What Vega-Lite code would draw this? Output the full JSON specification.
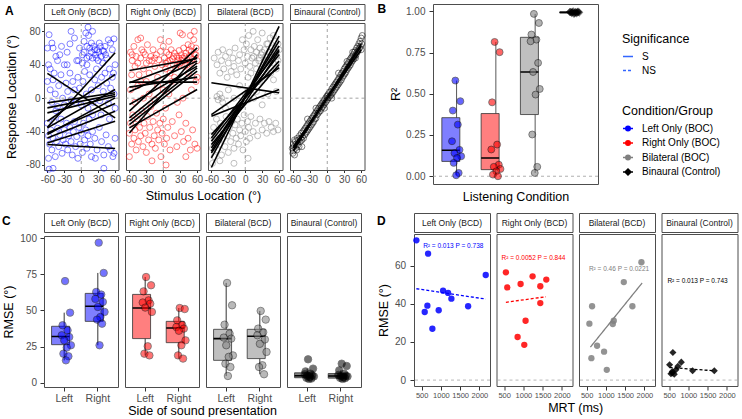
{
  "$schema": "https://vega.github.io/schema/vega-lite/v6.json",
  "background": "white",
  "padding": {"left": 2, "top": 2, "right": 0, "bottom": 0},
  "config": {
    "font": "Liberation Sans",
    "view": {"stroke": "#4d4d4d", "strokeWidth": 1},
    "axis": {"grid": false, "domain": false, "tickColor": "#333333", "tickSize": 2.5, "labelColor": "#4d4d4d", "labelFontSize": 10, "labelPadding": 1.5, "labelFlush": false, "labelOverlap": false, "titleFontSize": 12.5, "titleFontWeight": "normal", "titleColor": "#000000", "titlePadding": 5},
    "legend": {"titleFontSize": 12.5, "titleFontWeight": "normal", "titleColor": "#000000", "labelFontSize": 10, "labelColor": "#000000", "padding": 0},
    "title": {"fontSize": 12, "fontWeight": "bold", "color": "#000000"}
  },
  "datasets": {
    "cond": [{"c":"L","n":"Left Only (BCD)"},{"c":"R","n":"Right Only (BCD)"},{"c":"Bi","n":"Bilateral (BCD)"},{"c":"Bn","n":"Binaural (Control)"}],
    "a": [
      {"c":"L","x":-57,"y":76},{"c":"L","x":-52,"y":66},{"c":"L","x":-50,"y":60},{"c":"L","x":-45,"y":50},{"c":"L","x":-58,"y":40},{"c":"L","x":-55,"y":35},{"c":"L","x":-48,"y":30},{"c":"L","x":-42,"y":45},{"c":"L","x":-38,"y":52},{"c":"L","x":-35,"y":62},{"c":"L","x":-30,"y":40},{"c":"L","x":-25,"y":55},{"c":"L","x":-20,"y":65},{"c":"L","x":-12,"y":72},{"c":"L","x":-8,"y":45},{"c":"L","x":-3,"y":60},{"c":"L","x":2,"y":52},{"c":"L","x":5,"y":68},{"c":"L","x":8,"y":78},{"c":"L","x":12,"y":85},{"c":"L","x":15,"y":60},{"c":"L","x":18,"y":55},{"c":"L","x":20,"y":48},{"c":"L","x":22,"y":62},{"c":"L","x":25,"y":52},{"c":"L","x":28,"y":58},{"c":"L","x":30,"y":45},{"c":"L","x":32,"y":66},{"c":"L","x":35,"y":50},{"c":"L","x":38,"y":42},{"c":"L","x":40,"y":56},{"c":"L","x":42,"y":62},{"c":"L","x":45,"y":48},{"c":"L","x":48,"y":70},{"c":"L","x":52,"y":66},{"c":"L","x":55,"y":58},{"c":"L","x":58,"y":71},{"c":"L","x":60,"y":40},{"c":"L","x":57,"y":30},{"c":"L","x":50,"y":35},
      {"c":"L","x":-60,"y":20},{"c":"L","x":-55,"y":10},{"c":"L","x":-52,"y":-5},{"c":"L","x":-50,"y":22},{"c":"L","x":-46,"y":5},{"c":"L","x":-42,"y":-10},{"c":"L","x":-40,"y":15},{"c":"L","x":-36,"y":28},{"c":"L","x":-33,"y":0},{"c":"L","x":-30,"y":-8},{"c":"L","x":-27,"y":18},{"c":"L","x":-24,"y":8},{"c":"L","x":-20,"y":30},{"c":"L","x":-18,"y":-2},{"c":"L","x":-15,"y":20},{"c":"L","x":-12,"y":10},{"c":"L","x":-10,"y":-5},{"c":"L","x":-6,"y":25},{"c":"L","x":-3,"y":12},{"c":"L","x":0,"y":-8},{"c":"L","x":3,"y":20},{"c":"L","x":6,"y":32},{"c":"L","x":9,"y":5},{"c":"L","x":12,"y":-12},{"c":"L","x":15,"y":28},{"c":"L","x":18,"y":10},{"c":"L","x":21,"y":-5},{"c":"L","x":24,"y":22},{"c":"L","x":27,"y":35},{"c":"L","x":30,"y":15},{"c":"L","x":33,"y":-3},{"c":"L","x":36,"y":25},{"c":"L","x":39,"y":8},{"c":"L","x":42,"y":30},{"c":"L","x":45,"y":18},{"c":"L","x":48,"y":-6},{"c":"L","x":52,"y":12},{"c":"L","x":55,"y":25},{"c":"L","x":58,"y":5},{"c":"L","x":60,"y":-12},
      {"c":"L","x":-60,"y":-30},{"c":"L","x":-58,"y":-45},{"c":"L","x":-56,"y":-55},{"c":"L","x":-54,"y":-38},{"c":"L","x":-52,"y":-62},{"c":"L","x":-50,"y":-48},{"c":"L","x":-48,"y":-28},{"c":"L","x":-46,"y":-70},{"c":"L","x":-44,"y":-52},{"c":"L","x":-42,"y":-36},{"c":"L","x":-40,"y":-58},{"c":"L","x":-38,"y":-44},{"c":"L","x":-36,"y":-25},{"c":"L","x":-34,"y":-66},{"c":"L","x":-32,"y":-50},{"c":"L","x":-30,"y":-38},{"c":"L","x":-28,"y":-55},{"c":"L","x":-26,"y":-30},{"c":"L","x":-24,"y":-62},{"c":"L","x":-22,"y":-45},{"c":"L","x":-20,"y":-35},{"c":"L","x":-18,"y":-52},{"c":"L","x":-16,"y":-68},{"c":"L","x":-14,"y":-40},{"c":"L","x":-12,"y":-28},{"c":"L","x":-10,"y":-58},{"c":"L","x":-8,"y":-46},{"c":"L","x":-6,"y":-72},{"c":"L","x":-4,"y":-35},{"c":"L","x":-2,"y":-55},{"c":"L","x":0,"y":-42},{"c":"L","x":2,"y":-65},{"c":"L","x":4,"y":-30},{"c":"L","x":6,"y":-50},{"c":"L","x":8,"y":-38},{"c":"L","x":10,"y":-60},{"c":"L","x":12,"y":-45},{"c":"L","x":14,"y":-25},{"c":"L","x":16,"y":-55},{"c":"L","x":18,"y":-70},{"c":"L","x":20,"y":-40},{"c":"L","x":24,"y":-48},{"c":"L","x":28,"y":-62},{"c":"L","x":32,"y":-35},{"c":"L","x":36,"y":-52},{"c":"L","x":40,"y":-68},{"c":"L","x":44,"y":-44},{"c":"L","x":48,"y":-58},{"c":"L","x":52,"y":-62},{"c":"L","x":56,"y":-70},{"c":"L","x":60,"y":-48},{"c":"L","x":58,"y":-66},{"c":"L","x":-57,"y":-85},{"c":"L","x":-50,"y":-84},{"c":"L","x":40,"y":-84},{"c":"L","x":-58,"y":-72},{"c":"L","x":25,"y":-72},
      {"c":"L","x":-60,"y":60},{"c":"L","x":-45,"y":-15},{"c":"L","x":10,"y":40},{"c":"L","x":-25,"y":40},{"c":"L","x":35,"y":-20},{"c":"L","x":50,"y":-25},{"c":"L","x":-5,"y":45},{"c":"L","x":20,"y":-20},{"c":"L","x":5,"y":55},{"c":"L","x":10,"y":62},{"c":"L","x":14,"y":50},{"c":"L","x":18,"y":66},{"c":"L","x":24,"y":58},{"c":"L","x":27,"y":48},{"c":"L","x":31,"y":55},{"c":"L","x":34,"y":62},{"c":"L","x":38,"y":57},{"c":"L","x":43,"y":52},{"c":"L","x":10,"y":48},{"c":"L","x":2,"y":42},{"c":"L","x":-18,"y":80},{"c":"L","x":20,"y":80},{"c":"L","x":13,"y":75},
      {"c":"R","x":-58,"y":55},{"c":"R","x":-55,"y":45},{"c":"R","x":-52,"y":62},{"c":"R","x":-50,"y":38},{"c":"R","x":-48,"y":50},{"c":"R","x":-45,"y":70},{"c":"R","x":-43,"y":28},{"c":"R","x":-40,"y":48},{"c":"R","x":-38,"y":58},{"c":"R","x":-35,"y":35},{"c":"R","x":-32,"y":52},{"c":"R","x":-30,"y":42},{"c":"R","x":-28,"y":64},{"c":"R","x":-25,"y":30},{"c":"R","x":-22,"y":50},{"c":"R","x":-20,"y":45},{"c":"R","x":-18,"y":58},{"c":"R","x":-15,"y":38},{"c":"R","x":-12,"y":52},{"c":"R","x":-10,"y":25},{"c":"R","x":-8,"y":46},{"c":"R","x":-5,"y":56},{"c":"R","x":-2,"y":40},{"c":"R","x":0,"y":62},{"c":"R","x":2,"y":48},{"c":"R","x":4,"y":35},{"c":"R","x":6,"y":55},{"c":"R","x":8,"y":44},{"c":"R","x":10,"y":52},{"c":"R","x":12,"y":30},{"c":"R","x":14,"y":58},{"c":"R","x":16,"y":47},{"c":"R","x":18,"y":40},{"c":"R","x":20,"y":54},{"c":"R","x":22,"y":36},{"c":"R","x":24,"y":50},{"c":"R","x":26,"y":45},{"c":"R","x":28,"y":57},{"c":"R","x":30,"y":42},{"c":"R","x":32,"y":52},{"c":"R","x":34,"y":48},{"c":"R","x":36,"y":60},{"c":"R","x":38,"y":38},{"c":"R","x":40,"y":54},{"c":"R","x":42,"y":46},{"c":"R","x":44,"y":64},{"c":"R","x":46,"y":50},{"c":"R","x":48,"y":42},{"c":"R","x":50,"y":56},{"c":"R","x":52,"y":47},{"c":"R","x":54,"y":70},{"c":"R","x":56,"y":52},{"c":"R","x":58,"y":60},{"c":"R","x":60,"y":45},{"c":"R","x":30,"y":78},{"c":"R","x":34,"y":76},{"c":"R","x":48,"y":75},{"c":"R","x":55,"y":80},{"c":"R","x":-5,"y":70},{"c":"R","x":10,"y":68},{"c":"R","x":-40,"y":72},{"c":"R","x":-56,"y":28},{"c":"R","x":20,"y":25},{"c":"R","x":45,"y":30},{"c":"R","x":60,"y":25},{"c":"R","x":50,"y":62},{"c":"R","x":15,"y":20},{"c":"R","x":-30,"y":20},
      {"c":"R","x":5,"y":42},{"c":"R","x":12,"y":45},{"c":"R","x":18,"y":50},{"c":"R","x":25,"y":40},{"c":"R","x":33,"y":45},{"c":"R","x":38,"y":50},{"c":"R","x":42,"y":40},{"c":"R","x":-25,"y":45},{"c":"R","x":-35,"y":55},{"c":"R","x":-45,"y":42},{"c":"R","x":-55,"y":52},{"c":"R","x":46,"y":58},{"c":"R","x":58,"y":52},{"c":"R","x":28,"y":48},{"c":"R","x":-15,"y":48},
      {"c":"R","x":-60,"y":-42},{"c":"R","x":-58,"y":-30},{"c":"R","x":-56,"y":-55},{"c":"R","x":-54,"y":-20},{"c":"R","x":-52,"y":-48},{"c":"R","x":-50,"y":-38},{"c":"R","x":-48,"y":-62},{"c":"R","x":-46,"y":-25},{"c":"R","x":-44,"y":-52},{"c":"R","x":-42,"y":-35},{"c":"R","x":-40,"y":-45},{"c":"R","x":-38,"y":-15},{"c":"R","x":-36,"y":-58},{"c":"R","x":-34,"y":-30},{"c":"R","x":-32,"y":-42},{"c":"R","x":-30,"y":-65},{"c":"R","x":-28,"y":-22},{"c":"R","x":-26,"y":-50},{"c":"R","x":-24,"y":-35},{"c":"R","x":-22,"y":-10},{"c":"R","x":-20,"y":-55},{"c":"R","x":-18,"y":-28},{"c":"R","x":-16,"y":-45},{"c":"R","x":-14,"y":-60},{"c":"R","x":-12,"y":-18},{"c":"R","x":-10,"y":-38},{"c":"R","x":-8,"y":-50},{"c":"R","x":-6,"y":-30},{"c":"R","x":-4,"y":-70},{"c":"R","x":-2,"y":-42},{"c":"R","x":0,"y":-25},{"c":"R","x":2,"y":-55},{"c":"R","x":4,"y":-12},{"c":"R","x":6,"y":-48},{"c":"R","x":8,"y":-35},{"c":"R","x":12,"y":-62},{"c":"R","x":16,"y":-28},{"c":"R","x":20,"y":-45},{"c":"R","x":24,"y":-58},{"c":"R","x":28,"y":-20},{"c":"R","x":32,"y":-40},{"c":"R","x":36,"y":-52},{"c":"R","x":40,"y":-30},{"c":"R","x":44,"y":-48},{"c":"R","x":48,"y":-62},{"c":"R","x":52,"y":-38},{"c":"R","x":56,"y":-55},{"c":"R","x":60,"y":-60},{"c":"R","x":-50,"y":-5},{"c":"R","x":-35,"y":0},{"c":"R","x":-15,"y":-2},{"c":"R","x":10,"y":5},{"c":"R","x":35,"y":0},{"c":"R","x":-58,"y":10},{"c":"R","x":-45,"y":15},{"c":"R","x":-25,"y":5},{"c":"R","x":0,"y":10},{"c":"R","x":25,"y":-5},{"c":"R","x":-60,"y":-70},{"c":"R","x":-20,"y":-75},{"c":"R","x":40,"y":-70},{"c":"R","x":5,"y":-80},{"c":"R","x":-40,"y":20},{"c":"R","x":-10,"y":15},{"c":"R","x":50,"y":10},{"c":"R","x":58,"y":20},
      {"c":"Bi","x":-55,"y":48},{"c":"Bi","x":-50,"y":40},{"c":"Bi","x":-48,"y":55},{"c":"Bi","x":-45,"y":30},{"c":"Bi","x":-42,"y":45},{"c":"Bi","x":-40,"y":58},{"c":"Bi","x":-38,"y":35},{"c":"Bi","x":-35,"y":50},{"c":"Bi","x":-32,"y":25},{"c":"Bi","x":-30,"y":42},{"c":"Bi","x":-28,"y":55},{"c":"Bi","x":-25,"y":32},{"c":"Bi","x":-22,"y":48},{"c":"Bi","x":-20,"y":38},{"c":"Bi","x":-18,"y":60},{"c":"Bi","x":-15,"y":28},{"c":"Bi","x":-12,"y":45},{"c":"Bi","x":-10,"y":52},{"c":"Bi","x":-8,"y":35},{"c":"Bi","x":-5,"y":70},{"c":"Bi","x":-2,"y":58},{"c":"Bi","x":0,"y":42},{"c":"Bi","x":2,"y":65},{"c":"Bi","x":4,"y":50},{"c":"Bi","x":6,"y":75},{"c":"Bi","x":8,"y":38},{"c":"Bi","x":10,"y":58},{"c":"Bi","x":12,"y":48},{"c":"Bi","x":14,"y":80},{"c":"Bi","x":16,"y":62},{"c":"Bi","x":18,"y":42},{"c":"Bi","x":20,"y":55},{"c":"Bi","x":22,"y":70},{"c":"Bi","x":24,"y":45},{"c":"Bi","x":26,"y":60},{"c":"Bi","x":28,"y":52},{"c":"Bi","x":30,"y":78},{"c":"Bi","x":32,"y":40},{"c":"Bi","x":34,"y":58},{"c":"Bi","x":36,"y":50},{"c":"Bi","x":38,"y":65},{"c":"Bi","x":40,"y":45},{"c":"Bi","x":42,"y":55},{"c":"Bi","x":44,"y":72},{"c":"Bi","x":46,"y":48},{"c":"Bi","x":48,"y":60},{"c":"Bi","x":50,"y":42},{"c":"Bi","x":52,"y":55},{"c":"Bi","x":54,"y":68},{"c":"Bi","x":56,"y":50},{"c":"Bi","x":58,"y":45},{"c":"Bi","x":60,"y":58},{"c":"Bi","x":55,"y":35},{"c":"Bi","x":45,"y":30},{"c":"Bi","x":35,"y":25},{"c":"Bi","x":25,"y":20},{"c":"Bi","x":50,"y":22},
      {"c":"Bi","x":15,"y":50},{"c":"Bi","x":25,"y":48},{"c":"Bi","x":35,"y":45},{"c":"Bi","x":45,"y":55},{"c":"Bi","x":55,"y":52},{"c":"Bi","x":20,"y":35},{"c":"Bi","x":30,"y":55},{"c":"Bi","x":40,"y":65},{"c":"Bi","x":50,"y":75},{"c":"Bi","x":58,"y":65},{"c":"Bi","x":10,"y":30},{"c":"Bi","x":5,"y":25},
      {"c":"Bi","x":-50,"y":2},{"c":"Bi","x":-48,"y":-2},{"c":"Bi","x":-45,"y":5},{"c":"Bi","x":-42,"y":0},{"c":"Bi","x":-40,"y":-5},{"c":"Bi","x":-30,"y":10},{"c":"Bi","x":-20,"y":0},{"c":"Bi","x":-10,"y":15},{"c":"Bi","x":-5,"y":-5},{"c":"Bi","x":0,"y":5},{"c":"Bi","x":5,"y":-2},{"c":"Bi","x":10,"y":12},{"c":"Bi","x":15,"y":0},{"c":"Bi","x":20,"y":8},{"c":"Bi","x":-35,"y":-12},{"c":"Bi","x":-15,"y":-15},{"c":"Bi","x":30,"y":-8},{"c":"Bi","x":40,"y":5},{"c":"Bi","x":55,"y":8},
      {"c":"Bi","x":-60,"y":-45},{"c":"Bi","x":-58,"y":-60},{"c":"Bi","x":-56,"y":-35},{"c":"Bi","x":-55,"y":-70},{"c":"Bi","x":-53,"y":-50},{"c":"Bi","x":-51,"y":-25},{"c":"Bi","x":-50,"y":-62},{"c":"Bi","x":-48,"y":-42},{"c":"Bi","x":-46,"y":-55},{"c":"Bi","x":-44,"y":-30},{"c":"Bi","x":-42,"y":-68},{"c":"Bi","x":-40,"y":-48},{"c":"Bi","x":-38,"y":-38},{"c":"Bi","x":-36,"y":-58},{"c":"Bi","x":-34,"y":-22},{"c":"Bi","x":-32,"y":-45},{"c":"Bi","x":-30,"y":-65},{"c":"Bi","x":-28,"y":-35},{"c":"Bi","x":-26,"y":-52},{"c":"Bi","x":-24,"y":-28},{"c":"Bi","x":-22,"y":-42},{"c":"Bi","x":-20,"y":-60},{"c":"Bi","x":-18,"y":-32},{"c":"Bi","x":-16,"y":-48},{"c":"Bi","x":-14,"y":-25},{"c":"Bi","x":-12,"y":-55},{"c":"Bi","x":-10,"y":-38},{"c":"Bi","x":-8,"y":-45},{"c":"Bi","x":-6,"y":-30},{"c":"Bi","x":-4,"y":-62},{"c":"Bi","x":-2,"y":-20},{"c":"Bi","x":0,"y":-40},{"c":"Bi","x":2,"y":-52},{"c":"Bi","x":4,"y":-28},{"c":"Bi","x":6,"y":-35},{"c":"Bi","x":8,"y":-48},{"c":"Bi","x":10,"y":-22},{"c":"Bi","x":14,"y":-40},{"c":"Bi","x":18,"y":-30},{"c":"Bi","x":22,"y":-45},{"c":"Bi","x":26,"y":-25},{"c":"Bi","x":30,"y":-38},{"c":"Bi","x":34,"y":-30},{"c":"Bi","x":38,"y":-42},{"c":"Bi","x":42,"y":-28},{"c":"Bi","x":46,"y":-35},{"c":"Bi","x":50,"y":-40},{"c":"Bi","x":54,"y":-30},{"c":"Bi","x":58,"y":-38},{"c":"Bi","x":-58,"y":-78},{"c":"Bi","x":-45,"y":-75},{"c":"Bi","x":-20,"y":-78},{"c":"Bi","x":5,"y":-72},
      {"c":"Bn","x":-62,"y":-60},{"c":"Bn","x":-61,"y":-66},{"c":"Bn","x":-60,"y":-55},{"c":"Bn","x":-60,"y":-63},{"c":"Bn","x":-59,"y":-58},{"c":"Bn","x":-58,"y":-68},{"c":"Bn","x":-57,"y":-52},{"c":"Bn","x":-56,"y":-60},{"c":"Bn","x":-55,"y":-55},{"c":"Bn","x":-54,"y":-62},{"c":"Bn","x":-53,"y":-48},{"c":"Bn","x":-52,"y":-56},{"c":"Bn","x":-51,"y":-50},{"c":"Bn","x":-50,"y":-58},{"c":"Bn","x":-49,"y":-45},{"c":"Bn","x":-48,"y":-52},{"c":"Bn","x":-47,"y":-48},{"c":"Bn","x":-46,"y":-42},{"c":"Bn","x":-45,"y":-50},{"c":"Bn","x":-44,"y":-46},{"c":"Bn","x":-43,"y":-40},{"c":"Bn","x":-42,"y":-48},{"c":"Bn","x":-41,"y":-38},{"c":"Bn","x":-40,"y":-44},{"c":"Bn","x":-39,"y":-36},{"c":"Bn","x":-38,"y":-42},{"c":"Bn","x":-37,"y":-34},{"c":"Bn","x":-36,"y":-40},{"c":"Bn","x":-35,"y":-32},{"c":"Bn","x":-34,"y":-38},{"c":"Bn","x":-33,"y":-30},{"c":"Bn","x":-32,"y":-36},{"c":"Bn","x":-31,"y":-28},{"c":"Bn","x":-30,"y":-34},{"c":"Bn","x":-29,"y":-26},{"c":"Bn","x":-28,"y":-32},{"c":"Bn","x":-27,"y":-24},{"c":"Bn","x":-26,"y":-30},{"c":"Bn","x":-25,"y":-22},{"c":"Bn","x":-24,"y":-28},{"c":"Bn","x":-23,"y":-20},{"c":"Bn","x":-22,"y":-25},{"c":"Bn","x":-21,"y":-18},{"c":"Bn","x":-20,"y":-24},{"c":"Bn","x":-19,"y":-16},{"c":"Bn","x":-18,"y":-20},{"c":"Bn","x":-17,"y":-14},{"c":"Bn","x":-16,"y":-18},{"c":"Bn","x":-15,"y":-12},{"c":"Bn","x":-14,"y":-16},{"c":"Bn","x":-13,"y":-10},{"c":"Bn","x":-12,"y":-15},{"c":"Bn","x":-11,"y":-8},{"c":"Bn","x":-10,"y":-12},{"c":"Bn","x":-9,"y":-6},{"c":"Bn","x":-8,"y":-10},{"c":"Bn","x":-7,"y":-4},{"c":"Bn","x":-6,"y":-8},{"c":"Bn","x":-5,"y":-2},{"c":"Bn","x":-4,"y":-6},{"c":"Bn","x":-3,"y":0},{"c":"Bn","x":-2,"y":-4},{"c":"Bn","x":-1,"y":2},{"c":"Bn","x":0,"y":-2},{"c":"Bn","x":0,"y":3},{"c":"Bn","x":1,"y":0},{"c":"Bn","x":2,"y":5},{"c":"Bn","x":3,"y":1},{"c":"Bn","x":4,"y":7},{"c":"Bn","x":5,"y":3},{"c":"Bn","x":6,"y":8},{"c":"Bn","x":7,"y":4},{"c":"Bn","x":8,"y":11},{"c":"Bn","x":9,"y":6},{"c":"Bn","x":10,"y":13},{"c":"Bn","x":11,"y":8},{"c":"Bn","x":12,"y":15},{"c":"Bn","x":13,"y":10},{"c":"Bn","x":14,"y":17},{"c":"Bn","x":15,"y":12},{"c":"Bn","x":16,"y":19},{"c":"Bn","x":17,"y":14},{"c":"Bn","x":18,"y":21},{"c":"Bn","x":19,"y":16},{"c":"Bn","x":20,"y":23},{"c":"Bn","x":21,"y":18},{"c":"Bn","x":22,"y":25},{"c":"Bn","x":23,"y":20},{"c":"Bn","x":24,"y":28},{"c":"Bn","x":25,"y":22},{"c":"Bn","x":26,"y":30},{"c":"Bn","x":27,"y":25},{"c":"Bn","x":28,"y":32},{"c":"Bn","x":29,"y":27},{"c":"Bn","x":30,"y":35},{"c":"Bn","x":31,"y":29},{"c":"Bn","x":32,"y":37},{"c":"Bn","x":33,"y":31},{"c":"Bn","x":34,"y":39},{"c":"Bn","x":35,"y":34},{"c":"Bn","x":36,"y":41},{"c":"Bn","x":37,"y":36},{"c":"Bn","x":38,"y":43},{"c":"Bn","x":39,"y":38},{"c":"Bn","x":40,"y":46},{"c":"Bn","x":41,"y":40},{"c":"Bn","x":42,"y":48},{"c":"Bn","x":43,"y":43},{"c":"Bn","x":44,"y":50},{"c":"Bn","x":45,"y":45},{"c":"Bn","x":46,"y":52},{"c":"Bn","x":47,"y":47},{"c":"Bn","x":48,"y":55},{"c":"Bn","x":49,"y":50},{"c":"Bn","x":50,"y":57},{"c":"Bn","x":51,"y":52},{"c":"Bn","x":52,"y":60},{"c":"Bn","x":53,"y":55},{"c":"Bn","x":54,"y":62},{"c":"Bn","x":55,"y":57},{"c":"Bn","x":56,"y":65},{"c":"Bn","x":57,"y":60},{"c":"Bn","x":58,"y":68},{"c":"Bn","x":59,"y":62},{"c":"Bn","x":60,"y":72},{"c":"Bn","x":61,"y":65},{"c":"Bn","x":62,"y":75},{"c":"Bn","x":60,"y":58},{"c":"Bn","x":-20,"y":-12},{"c":"Bn","x":-45,"y":-58},{"c":"Bn","x":-35,"y":-25},{"c":"Bn","x":20,"y":30},{"c":"Bn","x":35,"y":44},{"c":"Bn","x":50,"y":48},{"c":"Bn","x":-5,"y":-12},{"c":"Bn","x":8,"y":0},{"c":"Bn","x":-58,"y":-50},{"c":"Bn","x":45,"y":55},
      {"c":"L","s":1,"x":-60,"y":29.6},{"c":"L","s":1,"x":60,"y":-23.6},{"c":"L","s":2,"x":-60,"y":-55.5},{"c":"L","s":2,"x":60,"y":-60.3},{"c":"L","s":3,"x":-60,"y":-34.8},{"c":"L","s":3,"x":60,"y":54.3},{"c":"L","s":4,"x":-60,"y":-5.6},{"c":"L","s":4,"x":60,"y":6.4},{"c":"L","s":5,"x":-60,"y":-17.6},{"c":"L","s":5,"x":60,"y":2.4},{"c":"L","s":6,"x":-60,"y":-27.6},{"c":"L","s":6,"x":60,"y":28.4},{"c":"L","s":7,"x":-60,"y":-43.5},{"c":"L","s":7,"x":60,"y":0.4},{"c":"L","s":8,"x":-60,"y":-41.6},{"c":"L","s":8,"x":60,"y":-6.4},{"c":"L","s":9,"x":-60,"y":-47.6},{"c":"L","s":9,"x":60,"y":-15.6},{"c":"L","s":10,"x":-60,"y":-35.6},{"c":"L","s":10,"x":60,"y":10.4},{"c":"L","s":11,"x":-60,"y":-11.6},{"c":"L","s":11,"x":60,"y":4.4},{"c":"L","s":12,"x":-60,"y":-53.6},{"c":"L","s":12,"x":60,"y":-27.6},
      {"c":"R","s":1,"x":-60,"y":33.2},{"c":"R","s":1,"x":60,"y":47.6},{"c":"R","s":2,"x":-60,"y":19.2},{"c":"R","s":2,"x":60,"y":19.2},{"c":"R","s":3,"x":-60,"y":13.2},{"c":"R","s":3,"x":60,"y":25.2},{"c":"R","s":4,"x":-60,"y":7.6},{"c":"R","s":4,"x":60,"y":44.4},{"c":"R","s":5,"x":-60,"y":-15.6},{"c":"R","s":5,"x":60,"y":60.3},{"c":"R","s":6,"x":-60,"y":-41.6},{"c":"R","s":6,"x":60,"y":52.4},{"c":"R","s":7,"x":-60,"y":-27.6},{"c":"R","s":7,"x":60,"y":36.4},{"c":"R","s":8,"x":-60,"y":-35.6},{"c":"R","s":8,"x":60,"y":10.4},{"c":"R","s":9,"x":-60,"y":-23.6},{"c":"R","s":9,"x":60,"y":42.4},{"c":"R","s":10,"x":-60,"y":-31.6},{"c":"R","s":10,"x":60,"y":32.4},{"c":"R","s":11,"x":-60,"y":-7.6},{"c":"R","s":11,"x":60,"y":38.4},{"c":"R","s":12,"x":-60,"y":18.4},{"c":"R","s":12,"x":60,"y":48.4},
      {"c":"Bi","s":1,"x":-60,"y":18.4},{"c":"Bi","s":1,"x":60,"y":6.4},{"c":"Bi","s":2,"x":-60,"y":-83},{"c":"Bi","s":2,"x":60,"y":86},{"c":"Bi","s":3,"x":-60,"y":-71.6},{"c":"Bi","s":3,"x":60,"y":74.4},{"c":"Bi","s":4,"x":-60,"y":-59.6},{"c":"Bi","s":4,"x":60,"y":62.4},{"c":"Bi","s":5,"x":-60,"y":-51.6},{"c":"Bi","s":5,"x":60,"y":52.4},{"c":"Bi","s":6,"x":-60,"y":-65.6},{"c":"Bi","s":6,"x":60,"y":56.4},{"c":"Bi","s":7,"x":-60,"y":-21.6},{"c":"Bi","s":7,"x":60,"y":10.4},{"c":"Bi","s":8,"x":-60,"y":-55.6},{"c":"Bi","s":8,"x":60,"y":40.4},{"c":"Bi","s":9,"x":-60,"y":-43.6},{"c":"Bi","s":9,"x":60,"y":44.4},{"c":"Bi","s":10,"x":-60,"y":-19.6},{"c":"Bi","s":10,"x":60,"y":36.4},{"c":"Bi","s":11,"x":-60,"y":-63.6},{"c":"Bi","s":11,"x":60,"y":68.4},{"c":"Bi","s":12,"x":-60,"y":-47.6},{"c":"Bi","s":12,"x":60,"y":58.4},
      {"c":"Bn","s":1,"x":-60,"y":-60},{"c":"Bn","s":1,"x":60,"y":62},{"c":"Bn","s":2,"x":-60,"y":-58},{"c":"Bn","s":2,"x":60,"y":58},{"c":"Bn","s":3,"x":-60,"y":-63},{"c":"Bn","s":3,"x":60,"y":65}
    ],
    "bb": [
      {"c":"L","lo":0.006,"q1":0.09,"med":0.158,"q3":0.355,"hi":0.58},
      {"c":"R","lo":0.0,"q1":0.04,"med":0.111,"q3":0.38,"hi":0.814},
      {"c":"Bi","lo":0.02,"q1":0.374,"med":0.632,"q3":0.842,"hi":0.984},
      {"c":"Bn","lo":0.984,"q1":0.99,"med":0.993,"q3":0.996,"hi":0.999}
    ],
    "bp": [
      {"c":"L","s":5,"r":0.58},{"c":"L","s":11,"r":0.455},{"c":"L","s":2,"r":0.398},{"c":"L","s":8,"r":0.313},{"c":"L","s":1,"r":0.212},{"c":"L","s":10,"r":0.16},{"c":"L","s":4,"r":0.14},{"c":"L","s":12,"r":0.121},{"c":"L","s":7,"r":0.111},{"c":"L","s":3,"r":0.081},{"c":"L","s":9,"r":0.02},{"c":"L","s":6,"r":0.006},
      {"c":"R","s":5,"r":0.814},{"c":"R","s":11,"r":0.752},{"c":"R","s":2,"r":0.448},{"c":"R","s":8,"r":0.192},{"c":"R","s":1,"r":0.162},{"c":"R","s":10,"r":0.07},{"c":"R","s":4,"r":0.057},{"c":"R","s":12,"r":0.044},{"c":"R","s":7,"r":0.03},{"c":"R","s":3,"r":0.01},{"c":"R","s":9,"r":0.0},
      {"c":"Bi","s":5,"r":0.984},{"c":"Bi","s":11,"r":0.929},{"c":"Bi","s":2,"r":0.859},{"c":"Bi","s":8,"r":0.828},{"c":"Bi","s":1,"r":0.818},{"c":"Bi","s":10,"r":0.687},{"c":"Bi","s":4,"r":0.632},{"c":"Bi","s":12,"r":0.529},{"c":"Bi","s":7,"r":0.495},{"c":"Bi","s":3,"r":0.253},{"c":"Bi","s":9,"r":0.057},{"c":"Bi","s":6,"r":0.02},
      {"c":"Bn","s":5,"r":0.999},{"c":"Bn","s":11,"r":0.998},{"c":"Bn","s":2,"r":0.997},{"c":"Bn","s":8,"r":0.996},{"c":"Bn","s":1,"r":0.995},{"c":"Bn","s":10,"r":0.994},{"c":"Bn","s":4,"r":0.993},{"c":"Bn","s":12,"r":0.992},{"c":"Bn","s":7,"r":0.991},{"c":"Bn","s":3,"r":0.99},{"c":"Bn","s":9,"r":0.988},{"c":"Bn","s":6,"r":0.985}
    ],
    "cd": [
      {"c":"L","side":"Left","lo":15.6,"q1":26.4,"med":32,"q3":39.1,"hi":48.5},
      {"c":"L","side":"Right","lo":26,"q1":42.5,"med":52.9,"q3":61.8,"hi":75.9},
      {"c":"R","side":"Left","lo":19,"q1":30.6,"med":51.7,"q3":61.1,"hi":73.1},
      {"c":"R","side":"Right","lo":16.8,"q1":27.8,"med":37.9,"q3":42.5,"hi":51.7},
      {"c":"Bi","side":"Left","lo":4.8,"q1":15.6,"med":30.6,"q3":37,"hi":69},
      {"c":"Bi","side":"Right","lo":6,"q1":16.8,"med":32.2,"q3":37,"hi":49.7},
      {"c":"Bn","side":"Left","lo":2.5,"q1":3.6,"med":5,"q3":7,"hi":9.9},
      {"c":"Bn","side":"Right","lo":2.5,"q1":3.3,"med":4.8,"q3":6.5,"hi":8.7},
      {"c":"L","side":"Left","s":5,"v":70.3},{"c":"L","side":"Left","s":11,"v":48.5},{"c":"L","side":"Left","s":2,"v":39.8},{"c":"L","side":"Left","s":8,"v":36.3},{"c":"L","side":"Left","s":1,"v":32.9},{"c":"L","side":"Left","s":10,"v":31.7},{"c":"L","side":"Left","s":4,"v":29.4},{"c":"L","side":"Left","s":12,"v":26},{"c":"L","side":"Left","s":7,"v":24.4},{"c":"L","side":"Left","s":3,"v":20.2},{"c":"L","side":"Left","s":9,"v":18.4},{"c":"L","side":"Left","s":6,"v":15.6},
      {"c":"L","side":"Right","s":5,"v":96.8},{"c":"L","side":"Right","s":11,"v":75.9},{"c":"L","side":"Right","s":2,"v":62.8},{"c":"L","side":"Right","s":8,"v":61},{"c":"L","side":"Right","s":1,"v":58},{"c":"L","side":"Right","s":10,"v":55.9},{"c":"L","side":"Right","s":4,"v":52.4},{"c":"L","side":"Right","s":12,"v":49},{"c":"L","side":"Right","s":7,"v":45.5},{"c":"L","side":"Right","s":3,"v":43.7},{"c":"L","side":"Right","s":9,"v":40.9},{"c":"L","side":"Right","s":6,"v":26},
      {"c":"R","side":"Left","s":5,"v":73.1},{"c":"R","side":"Left","s":11,"v":67.4},{"c":"R","side":"Left","s":2,"v":63.2},{"c":"R","side":"Left","s":8,"v":57},{"c":"R","side":"Left","s":1,"v":55.5},{"c":"R","side":"Left","s":10,"v":54.7},{"c":"R","side":"Left","s":4,"v":52},{"c":"R","side":"Left","s":12,"v":49},{"c":"R","side":"Left","s":7,"v":25.3},{"c":"R","side":"Left","s":3,"v":20.2},{"c":"R","side":"Left","s":9,"v":19},
      {"c":"R","side":"Right","s":5,"v":51.7},{"c":"R","side":"Right","s":11,"v":51},{"c":"R","side":"Right","s":2,"v":43.2},{"c":"R","side":"Right","s":8,"v":40},{"c":"R","side":"Right","s":1,"v":38.6},{"c":"R","side":"Right","s":10,"v":37.5},{"c":"R","side":"Right","s":4,"v":36},{"c":"R","side":"Right","s":12,"v":29.4},{"c":"R","side":"Right","s":7,"v":26},{"c":"R","side":"Right","s":3,"v":19},{"c":"R","side":"Right","s":9,"v":16.8},
      {"c":"Bi","side":"Left","s":5,"v":69},{"c":"Bi","side":"Left","s":11,"v":53.6},{"c":"Bi","side":"Left","s":2,"v":40.2},{"c":"Bi","side":"Left","s":8,"v":34},{"c":"Bi","side":"Left","s":1,"v":31.3},{"c":"Bi","side":"Left","s":10,"v":30.6},{"c":"Bi","side":"Left","s":4,"v":26},{"c":"Bi","side":"Left","s":12,"v":19},{"c":"Bi","side":"Left","s":7,"v":18},{"c":"Bi","side":"Left","s":3,"v":13.3},{"c":"Bi","side":"Left","s":9,"v":11},{"c":"Bi","side":"Left","s":6,"v":4.8},
      {"c":"Bi","side":"Right","s":5,"v":49.7},{"c":"Bi","side":"Right","s":11,"v":43.7},{"c":"Bi","side":"Right","s":2,"v":37.5},{"c":"Bi","side":"Right","s":8,"v":35},{"c":"Bi","side":"Right","s":1,"v":32.9},{"c":"Bi","side":"Right","s":10,"v":30},{"c":"Bi","side":"Right","s":4,"v":27},{"c":"Bi","side":"Right","s":12,"v":21.4},{"c":"Bi","side":"Right","s":7,"v":12.2},{"c":"Bi","side":"Right","s":3,"v":11},{"c":"Bi","side":"Right","s":9,"v":6},
      {"c":"Bn","side":"Left","s":5,"v":16.3},{"c":"Bn","side":"Left","s":11,"v":9.9},{"c":"Bn","side":"Left","s":2,"v":8},{"c":"Bn","side":"Left","s":8,"v":6.4},{"c":"Bn","side":"Left","s":1,"v":6},{"c":"Bn","side":"Left","s":10,"v":5.3},{"c":"Bn","side":"Left","s":4,"v":5},{"c":"Bn","side":"Left","s":12,"v":4.5},{"c":"Bn","side":"Left","s":7,"v":4.1},{"c":"Bn","side":"Left","s":3,"v":3.5},{"c":"Bn","side":"Left","s":9,"v":3},{"c":"Bn","side":"Left","s":6,"v":2.8},
      {"c":"Bn","side":"Right","s":5,"v":13.3},{"c":"Bn","side":"Right","s":11,"v":11.7},{"c":"Bn","side":"Right","s":2,"v":8.7},{"c":"Bn","side":"Right","s":8,"v":6.4},{"c":"Bn","side":"Right","s":1,"v":5.5},{"c":"Bn","side":"Right","s":10,"v":5},{"c":"Bn","side":"Right","s":4,"v":4.8},{"c":"Bn","side":"Right","s":12,"v":4.5},{"c":"Bn","side":"Right","s":7,"v":4},{"c":"Bn","side":"Right","s":3,"v":3.5},{"c":"Bn","side":"Right","s":9,"v":3.2},{"c":"Bn","side":"Right","s":6,"v":2.8}
    ],
    "dd": [
      {"c":"L","x":362,"y":73.3},{"c":"L","x":666,"y":66.3},{"c":"L","x":2164,"y":55.1},{"c":"L","x":1056,"y":46.9},{"c":"L","x":1186,"y":45.7},{"c":"L","x":1272,"y":42.7},{"c":"L","x":648,"y":39},{"c":"L","x":1706,"y":38.7},{"c":"L","x":578,"y":35.7},{"c":"L","x":942,"y":36.6},{"c":"L","x":778,"y":26.9},
      {"c":"R","x":544,"y":56.5},{"c":"R","x":580,"y":48.6},{"c":"R","x":926,"y":50.4},{"c":"R","x":1238,"y":54.4},{"c":"R","x":1438,"y":49.2},{"c":"R","x":1594,"y":52.7},{"c":"R","x":1438,"y":40.4},{"c":"R","x":1056,"y":31.1},{"c":"R","x":848,"y":22.6},{"c":"R","x":1022,"y":18.5},
      {"c":"Bi","x":1922,"y":61.8},{"c":"Bi","x":1464,"y":51.4},{"c":"Bi","x":640,"y":38.7},{"c":"Bi","x":1688,"y":38.7},{"c":"Bi","x":1204,"y":31.1},{"c":"Bi","x":1178,"y":29.4},{"c":"Bi","x":570,"y":29.6},{"c":"Bi","x":770,"y":18},{"c":"Bi","x":952,"y":14.9},{"c":"Bi","x":622,"y":11.5},{"c":"Bi","x":1022,"y":5.4},
      {"c":"Bn","x":596,"y":14.5},{"c":"Bn","x":510,"y":8},{"c":"Bn","x":815,"y":9.4},{"c":"Bn","x":726,"y":7.2},{"c":"Bn","x":581,"y":3.7},{"c":"Bn","x":545,"y":3.3},{"c":"Bn","x":632,"y":3.1},{"c":"Bn","x":675,"y":5.4},{"c":"Bn","x":1108,"y":4.9},{"c":"Bn","x":1672,"y":4.9},{"c":"Bn","x":580,"y":4.5},
      {"c":"L","sig":"NS","x":362,"y":47.9},{"c":"L","sig":"NS","x":2164,"y":42.5},
      {"c":"R","sig":"NS","x":544,"y":40.8},{"c":"R","sig":"NS","x":1584,"y":43.7},
      {"c":"Bi","sig":"S","x":596,"y":17.3},{"c":"Bi","sig":"S","x":1940,"y":50.9},
      {"c":"Bn","sig":"NS","x":510,"y":6.6},{"c":"Bn","sig":"NS","x":1672,"y":4.9},
      {"c":"L","lab":"R² = 0.013   P = 0.738","x":1320,"y":70.5},
      {"c":"R","lab":"R² = 0.0052   P = 0.844","x":1262,"y":64},
      {"c":"Bi","lab":"R² = 0.46   P = 0.0221","x":1340,"y":58.3},
      {"c":"Bn","lab":"R² = 0.013   P = 0.743","x":1236,"y":52.2}
    ]
  },
  "spacing": 5,
  "vconcat": [
    {
      "spacing": 9,
      "hconcat": [
        {
          "title": {"text": "A", "anchor": "start", "frame": "bounds", "offset": -14},
          "spacing": 0,
          "vconcat": [
            {
              "data": {"name": "cond"},
              "facet": {"column": {"field": "c", "type": "nominal", "sort": ["L","R","Bi","Bn"], "header": null}},
              "spacing": 7,
              "bounds": "flush",
              "spec": {
                "width": 74.5, "height": 16,
                "mark": {"type": "text", "fontSize": 8.5, "color": "#1a1a1a"},
                "encoding": {
                  "text": {"field": "n", "type": "nominal"},
                  "y": {"datum": 0.5, "type": "quantitative", "scale": {"domain": [0, 1]}, "axis": {"title": " ", "labels": false, "ticks": false, "minExtent": 19, "maxExtent": 19, "titlePadding": 7}}
                }
              }
            },
            {
              "data": {"name": "a"},
              "facet": {"column": {"field": "c", "type": "nominal", "sort": ["L","R","Bi","Bn"], "header": null}},
              "spacing": 7,
              "bounds": "flush",
              "spec": {
                "width": 74.5, "height": 147,
                "layer": [
                  {
                    "transform": [{"filter": "!isValid(datum.s)"}],
                    "mark": {"type": "point", "shape": "circle", "filled": false, "size": 36, "strokeWidth": 1, "opacity": 0.5},
                    "encoding": {
                      "x": {"field": "x", "type": "quantitative", "scale": {"domain": [-66, 66], "nice": false, "zero": false}, "axis": {"values": [-60,-30,0,30,60], "tickCount": 20, "title": null, "labelExpr": "'' + datum.value"}},
                      "y": {"field": "y", "type": "quantitative", "scale": {"domain": [-86, 90], "nice": false, "zero": false}, "axis": {"values": [-80,-40,0,40,80], "tickCount": 20, "title": "Response Location (°)", "labelExpr": "'' + datum.value", "titlePadding": 7, "minExtent": 19, "maxExtent": 19}},
                      "color": {"field": "c", "type": "nominal", "scale": {"domain": ["L","R","Bi","Bn"], "range": ["#0000ff","#ff0000","#808080","#000000"]}}
                    }
                  },
                  {
                    "transform": [{"filter": "datum.s == 1 && datum.x < 0"}],
                    "mark": {"type": "rule", "color": "#8c8c8c", "strokeDash": [3,3], "strokeWidth": 0.8},
                    "encoding": {"x": {"datum": 0, "type": "quantitative"}}
                  },
                  {
                    "transform": [{"filter": "datum.s == 1 && datum.x < 0"}],
                    "mark": {"type": "rule", "color": "#8c8c8c", "strokeDash": [3,3], "strokeWidth": 0.8},
                    "encoding": {"y": {"datum": 0, "type": "quantitative"}}
                  },
                  {
                    "transform": [{"filter": "isValid(datum.s)"}],
                    "mark": {"type": "line", "color": "#000000", "strokeWidth": 1.6},
                    "encoding": {
                      "x": {"field": "x", "type": "quantitative"},
                      "y": {"field": "y", "type": "quantitative"},
                      "detail": {"field": "s", "type": "nominal"}
                    }
                  }
                ]
              }
            },
            {
              "data": {"values": [{"t": "Stimulus Location (°)"}]},
              "width": 319, "height": 23,
              "view": {"stroke": null},
              "mark": {"type": "text", "fontSize": 12.5, "color": "#000000"},
              "encoding": {
                "text": {"field": "t", "type": "nominal"},
                "y": {"datum": 0.5, "type": "quantitative", "scale": {"domain": [0, 1]}, "axis": {"title": " ", "labels": false, "ticks": false, "minExtent": 19, "maxExtent": 19, "titlePadding": 7}}
              }
            }
          ]
        },
        {
          "title": {"text": "B", "anchor": "start", "frame": "bounds", "offset": -12, "dx": -12},
          "width": 165, "height": 180,
          "layer": [
            {
              "data": {"name": "bb"},
              "mark": {"type": "rule", "color": "#595959"},
              "encoding": {
                "x": {"field": "c", "type": "nominal", "scale": {"domain": ["L","R","Bi","Bn"], "paddingInner": 0.25, "paddingOuter": 0.225}, "axis": {"labels": false, "ticks": false, "title": "Listening Condition", "titlePadding": 6}},
                "y": {"field": "lo", "type": "quantitative", "scale": {"domain": [-0.047, 1.044], "nice": false, "zero": false}, "axis": {"values": [0, 0.25, 0.5, 0.75, 1], "tickCount": 20, "format": ".2f", "title": "R²", "titlePadding": 3, "tickSize": 4, "labelPadding": 4}},
                "y2": {"field": "q1"}
              }
            },
            {
              "data": {"name": "bb"},
              "transform": [{"filter": "datum.c == 'L'"}],
              "mark": {"type": "rule", "color": "#999999", "strokeDash": [3,3], "strokeWidth": 0.8},
              "encoding": {"y": {"datum": 0, "type": "quantitative"}}
            },
            {
              "data": {"name": "bb"},
              "mark": {"type": "rule", "color": "#595959"},
              "encoding": {"x": {"field": "c", "type": "nominal"}, "y": {"field": "q3", "type": "quantitative"}, "y2": {"field": "hi"}}
            },
            {
              "data": {"name": "bb"},
              "mark": {"type": "bar", "fillOpacity": 0.5, "stroke": "#333333", "strokeWidth": 0.8},
              "encoding": {"x": {"field": "c", "type": "nominal"}, "y": {"field": "q1", "type": "quantitative"}, "y2": {"field": "q3"}, "color": {"field": "c", "type": "nominal", "scale": {"domain": ["L","R","Bi","Bn"], "range": ["#0000ff","#ff0000","#808080","#000000"]}}}
            },
            {
              "data": {"name": "bb"},
              "mark": {"type": "bar", "fill": "#000000", "stroke": "#000000", "strokeWidth": 1.6},
              "encoding": {"x": {"field": "c", "type": "nominal"}, "y": {"field": "med", "type": "quantitative"}, "y2": {"field": "med"}}
            },
            {
              "data": {"name": "bp"},
              "transform": [{"filter": "datum.c != 'Bn'"}],
              "mark": {"type": "point", "shape": "circle", "filled": true, "size": 48, "opacity": 0.6, "stroke": "#000000", "strokeWidth": 0.8},
              "encoding": {
                "x": {"field": "c", "type": "nominal"},
                "xOffset": {"field": "s", "type": "nominal", "scale": {"range": [9.75, 19.75]}},
                "y": {"field": "r", "type": "quantitative"},
                "color": {"field": "c", "type": "nominal", "scale": {"domain": ["L","R","Bi","Bn"], "range": ["#0000ff","#ff0000","#808080","#000000"]}}
              }
            },
            {
              "data": {"name": "bp"},
              "transform": [{"filter": "datum.c == 'Bn'"}],
              "mark": {"type": "point", "shape": "diamond", "filled": true, "size": 55, "opacity": 0.6, "stroke": "#000000", "strokeWidth": 0.8},
              "encoding": {
                "x": {"field": "c", "type": "nominal"},
                "xOffset": {"field": "s", "type": "nominal", "scale": {"range": [9.75, 19.75]}},
                "y": {"field": "r", "type": "quantitative"},
                "color": {"field": "c", "type": "nominal", "scale": {"domain": ["L","R","Bi","Bn"], "range": ["#0000ff","#ff0000","#808080","#000000"]}}
              }
            }
          ]
        }
      ]
    },
    {
      "spacing": 15,
      "hconcat": [
        {
          "title": {"text": "C", "anchor": "start", "frame": "bounds", "offset": -15},
          "spacing": 0,
          "vconcat": [
            {
              "data": {"name": "cond"},
              "facet": {"column": {"field": "c", "type": "nominal", "sort": ["L","R","Bi","Bn"], "header": null}},
              "spacing": 7,
              "bounds": "flush",
              "spec": {
                "width": 74, "height": 19,
                "mark": {"type": "text", "fontSize": 8.5, "color": "#1a1a1a"},
                "encoding": {
                  "text": {"field": "n", "type": "nominal"},
                  "y": {"datum": 0.5, "type": "quantitative", "scale": {"domain": [0, 1]}, "axis": {"title": " ", "labels": false, "ticks": false, "minExtent": 25, "maxExtent": 25, "titlePadding": 4}}
                }
              }
            },
            {
              "data": {"name": "cd"},
              "facet": {"column": {"field": "c", "type": "nominal", "sort": ["L","R","Bi","Bn"], "header": null}},
              "spacing": 7,
              "bounds": "flush",
              "spec": {
                "width": 74, "height": 151,
                "layer": [
                  {
                    "transform": [{"filter": "isValid(datum.q1)"}],
                    "mark": {"type": "rule", "color": "#333333"},
                    "encoding": {
                      "x": {"field": "side", "type": "nominal", "scale": {"domain": ["Left","Right"], "paddingInner": 0.25, "paddingOuter": 0.225}, "axis": {"title": null, "labelAngle": 0, "labelFontSize": 10.5, "labelPadding": 2, "tickSize": 4}},
                      "y": {"field": "lo", "type": "quantitative", "scale": {"domain": [-2.8, 101.4], "nice": false, "zero": false}, "axis": {"values": [0,25,50,75,100], "tickCount": 20, "title": "RMSE (°)", "titlePadding": 4, "tickSize": 4, "labelPadding": 3.5, "minExtent": 25, "maxExtent": 25}},
                      "y2": {"field": "q1"}
                    }
                  },
                  {
                    "transform": [{"filter": "isValid(datum.q1)"}],
                    "mark": {"type": "rule", "color": "#333333"},
                    "encoding": {"x": {"field": "side", "type": "nominal"}, "y": {"field": "q3", "type": "quantitative"}, "y2": {"field": "hi"}}
                  },
                  {
                    "transform": [{"filter": "isValid(datum.q1)"}],
                    "mark": {"type": "bar", "fillOpacity": 0.5, "stroke": "#333333", "strokeWidth": 0.8},
                    "encoding": {"x": {"field": "side", "type": "nominal"}, "y": {"field": "q1", "type": "quantitative"}, "y2": {"field": "q3"}, "color": {"field": "c", "type": "nominal", "scale": {"domain": ["L","R","Bi","Bn"], "range": ["#0000ff","#ff0000","#808080","#000000"]}}}
                  },
                  {
                    "transform": [{"filter": "isValid(datum.q1)"}],
                    "mark": {"type": "bar", "fill": "#000000", "stroke": "#000000", "strokeWidth": 1.6},
                    "encoding": {"x": {"field": "side", "type": "nominal"}, "y": {"field": "med", "type": "quantitative"}, "y2": {"field": "med"}}
                  },
                  {
                    "transform": [{"filter": "!isValid(datum.q1)"}],
                    "mark": {"type": "point", "shape": "circle", "filled": true, "size": 55, "opacity": 0.55, "stroke": "#000000", "strokeWidth": 0.8},
                    "encoding": {
                      "x": {"field": "side", "type": "nominal"},
                      "xOffset": {"field": "s", "type": "nominal", "scale": {"range": [6.6, 18.6]}},
                      "y": {"field": "v", "type": "quantitative"},
                      "color": {"field": "c", "type": "nominal", "scale": {"domain": ["L","R","Bi","Bn"], "range": ["#0000ff","#ff0000","#808080","#000000"]}}
                    }
                  }
                ]
              }
            },
            {
              "data": {"values": [{"t": "Side of sound presentation"}]},
              "width": 317, "height": 13,
              "view": {"stroke": null},
              "mark": {"type": "text", "fontSize": 12.5, "color": "#000000"},
              "encoding": {
                "text": {"field": "t", "type": "nominal"},
                "y": {"datum": 0.5, "type": "quantitative", "scale": {"domain": [0, 1]}, "axis": {"title": " ", "labels": false, "ticks": false, "minExtent": 25, "maxExtent": 25, "titlePadding": 4}}
              }
            }
          ]
        },
        {
          "title": {"text": "D", "anchor": "start", "frame": "bounds", "offset": -15},
          "spacing": 0,
          "vconcat": [
            {
              "data": {"name": "cond"},
              "facet": {"column": {"field": "c", "type": "nominal", "sort": ["L","R","Bi","Bn"], "header": null}},
              "spacing": 6.5,
              "bounds": "flush",
              "spec": {
                "width": 76, "height": 19,
                "mark": {"type": "text", "fontSize": 8.5, "color": "#1a1a1a"},
                "encoding": {
                  "text": {"field": "n", "type": "nominal"},
                  "y": {"datum": 0.5, "type": "quantitative", "scale": {"domain": [0, 1]}, "axis": {"title": " ", "labels": false, "ticks": false, "minExtent": 20, "maxExtent": 20, "titlePadding": 4}}
                }
              }
            },
            {
              "data": {"name": "dd"},
              "facet": {"column": {"field": "c", "type": "nominal", "sort": ["L","R","Bi","Bn"], "header": null}},
              "spacing": 6.5,
              "bounds": "flush",
              "spec": {
                "width": 76, "height": 152,
                "layer": [
                  {
                    "transform": [{"filter": "isValid(datum.lab)"}],
                    "mark": {"type": "rule", "color": "#a6a6a6", "strokeDash": [3,3], "strokeWidth": 0.8},
                    "encoding": {"y": {"datum": 0, "type": "quantitative"}}
                  },
                  {
                    "transform": [{"filter": "isValid(datum.sig)"}],
                    "mark": {"type": "line", "strokeWidth": 1.3},
                    "encoding": {
                      "x": {"field": "x", "type": "quantitative", "scale": {"domain": [300, 2275], "nice": false, "zero": false}, "axis": {"values": [500,1000,1500,2000], "tickCount": 20, "title": null, "labelFontSize": 7.5, "labelExpr": "'' + datum.value", "tickSize": 4}},
                      "y": {"field": "y", "type": "quantitative", "scale": {"domain": [-3.1, 76.6], "nice": false, "zero": false}, "axis": {"values": [0,20,40,60], "tickCount": 20, "title": "RMSE (°)", "titlePadding": 4, "tickSize": 4, "labelPadding": 4.5, "minExtent": 20, "maxExtent": 20}},
                      "color": {"field": "c", "type": "nominal", "scale": {"domain": ["L","R","Bi","Bn"], "range": ["#0000ff","#ff0000","#808080","#000000"]}},
                      "strokeDash": {"field": "sig", "type": "nominal", "scale": {"domain": ["S","NS"], "range": [[1,0],[3,2]]},
                        "legend": {"title": "Significance", "orient": "none", "legendX": 578, "legendY": 29, "symbolType": "stroke", "symbolSize": 100, "symbolStrokeWidth": 1.5, "symbolStrokeColor": "#3366ff", "labelOffset": 8, "rowPadding": 3,
                          "encoding": {"symbols": {"stroke": {"value": "#3366ff"}}}}}
                    }
                  },
                  {
                    "transform": [{"filter": "!isValid(datum.sig) && !isValid(datum.lab) && datum.c != 'Bn'"}],
                    "mark": {"type": "point", "shape": "circle", "filled": true, "size": 40, "opacity": 0.85},
                    "encoding": {
                      "x": {"field": "x", "type": "quantitative"},
                      "y": {"field": "y", "type": "quantitative"},
                      "color": {"field": "c", "type": "nominal", "scale": {"domain": ["L","R","Bi","Bn"], "range": ["#0000ff","#ff0000","#808080","#000000"]},
                        "legend": {"title": "Condition/Group", "orient": "none", "legendX": 578, "legendY": 101, "symbolSize": 100, "symbolOpacity": 1, "labelOffset": 8, "rowPadding": 2.5,
                          "labelExpr": "datum.label == 'L' ? 'Left Only (BOC)' : datum.label == 'R' ? 'Right Only (BOC)' : datum.label == 'Bi' ? 'Bilateral (BOC)' : 'Binaural (Control)'",
                          "encoding": {"symbols": {
                            "shape": {"value": {"expr": "datum.value == 'Bn' ? 'M-1,0H1M0,-0.6L0.6,0L0,0.6L-0.6,0Z' : 'M-1,0H1M-0.45,0A0.45,0.45,0,1,1,0.45,0A0.45,0.45,0,1,1,-0.45,0Z'"}},
                            "strokeWidth": {"value": 1.5},
                            "opacity": {"value": 1}
                          }}}}
                    }
                  },
                  {
                    "transform": [{"filter": "!isValid(datum.sig) && !isValid(datum.lab) && datum.c == 'Bn'"}],
                    "mark": {"type": "point", "shape": "diamond", "filled": true, "size": 50, "opacity": 0.85},
                    "encoding": {
                      "x": {"field": "x", "type": "quantitative"},
                      "y": {"field": "y", "type": "quantitative"},
                      "color": {"field": "c", "type": "nominal", "scale": {"domain": ["L","R","Bi","Bn"], "range": ["#0000ff","#ff0000","#808080","#000000"]}}
                    }
                  },
                  {
                    "transform": [{"filter": "isValid(datum.lab)"}],
                    "mark": {"type": "text", "fontSize": 6.5},
                    "encoding": {
                      "x": {"field": "x", "type": "quantitative"},
                      "y": {"field": "y", "type": "quantitative"},
                      "text": {"field": "lab", "type": "nominal"},
                      "color": {"field": "c", "type": "nominal", "scale": {"domain": ["L","R","Bi","Bn"], "range": ["#0000ff","#ff0000","#808080","#000000"]}}
                    }
                  }
                ]
              }
            },
            {
              "data": {"values": [{"t": "MRT (ms)"}]},
              "width": 323.5, "height": 18,
              "view": {"stroke": null},
              "mark": {"type": "text", "fontSize": 12.5, "color": "#000000"},
              "encoding": {
                "text": {"field": "t", "type": "nominal"},
                "y": {"datum": 0.5, "type": "quantitative", "scale": {"domain": [0, 1]}, "axis": {"title": " ", "labels": false, "ticks": false, "minExtent": 20, "maxExtent": 20, "titlePadding": 4}}
              }
            }
          ]
        }
      ]
    }
  ]
}
